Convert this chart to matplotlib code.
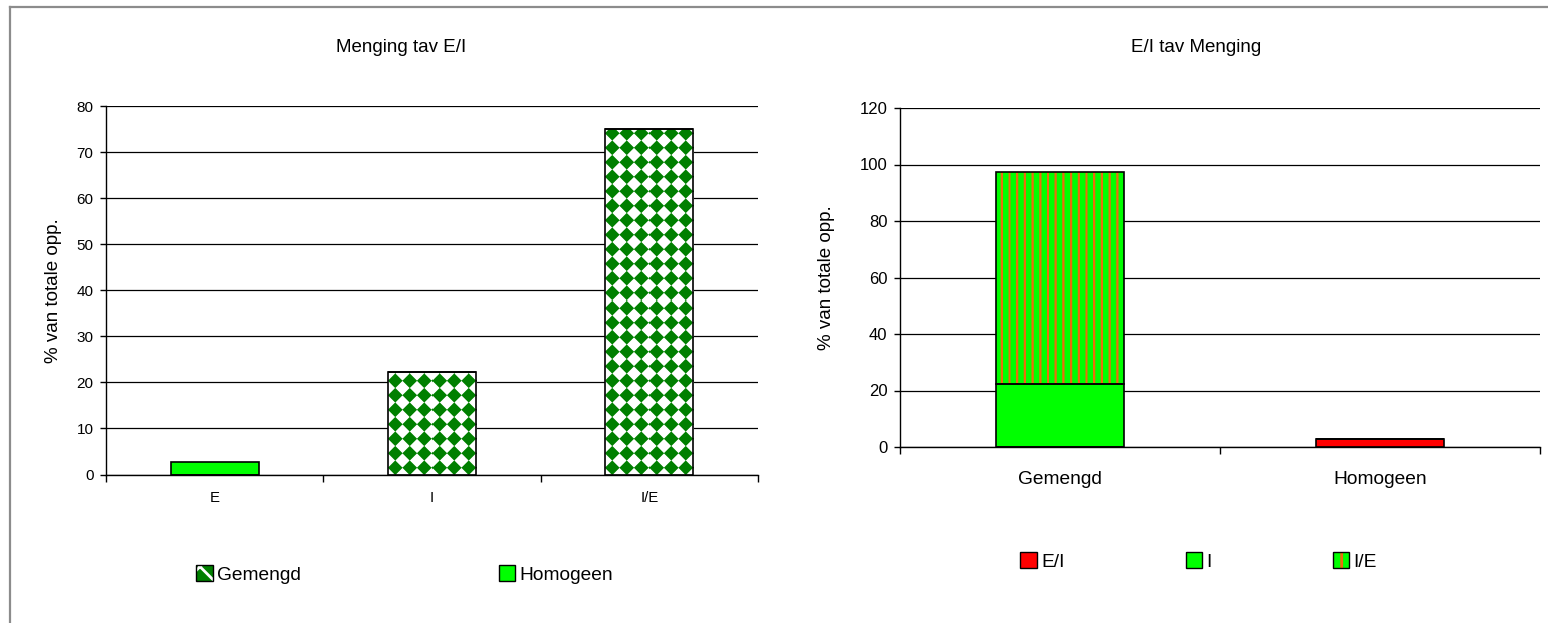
import numpy as np
import matplotlib
matplotlib.use("Agg")
import matplotlib.pyplot as plt
from matplotlib.patches import Rectangle, Patch
from matplotlib.legend_handler import HandlerBase
from matplotlib.ticker import FixedLocator, MultipleLocator

plt.rcParams["font.family"] = ["Liberation Sans", "DejaVu Sans"]
plt.rcParams["hatch.linewidth"] = 2.0

# --- Menging tav E/I : share of total area per E/I class, split by mixing type
ei_classes = ["E", "I", "I/E"]
gemengd = [0.0, 22.3, 74.9]
homogeen = [2.8, 0.0, 0.0]

# --- E/I tav Menging : same areas grouped by mixing type, stacked by E/I class
menging = ["Gemengd", "Homogeen"]
ei_series = ["E/I", "I", "I/E"]
share_ei = [0.0, 2.8]
share_i = [22.3, 0.0]
share_ie = [74.9, 0.0]

GREEN = "#00FF00"
DARK_GREEN = (0.0, 0.5, 0.0)
RED = "#FF0000"
STRIPE = (0.93, 0.42, 0.05)

W, H = 1548, 623
fig = plt.figure(figsize=(W / 100, H / 100), dpi=100)
fig.patch.set_facecolor("white")


def rect_from_px(left, top, right, bottom):
    return [left / W, 1 - bottom / H, (right - left) / W, (bottom - top) / H]


def fill_pattern(ax, bar, kind):
    """Paint a pixel-regular pattern inside a bar, clipped to its outline."""
    if bar.get_height() <= 0:
        return
    x0, y0 = bar.get_x(), bar.get_y()
    x1, y1 = x0 + bar.get_width(), y0 + bar.get_height()
    (px0, py0), (px1, py1) = ax.transData.transform([(x0, y0), (x1, y1)])
    nx = max(int(round(px1 - px0)), 1)
    ny = max(int(round(py1 - py0)), 1)
    ss = 4
    xs = (np.arange(nx * ss) + 0.5) / ss
    ys = (np.arange(ny * ss) + 0.5) / ss
    X, Y = np.meshgrid(xs, ys)
    if kind == "diamond":
        p = 14.5
        u = np.abs((X % p) - p / 2)
        v = np.abs((Y % p) - p / 2)
        m = ((u + v) < p / 2 * 1.02).astype(float)
        fg, bg = np.array(DARK_GREEN), np.array([1.0, 1.0, 1.0])
    else:
        p = 7.7
        m = (((X + 3.0) % p) < 2.2).astype(float)
        fg, bg = np.array(STRIPE), np.array([0.0, 1.0, 0.0])
    m = m.reshape(ny, ss, nx, ss).mean(axis=(1, 3))
    img = bg[None, None, :] * (1 - m[..., None]) + fg[None, None, :] * m[..., None]
    im = ax.imshow(img, extent=(x0, x1, y0, y1), origin="lower", aspect="auto",
                   interpolation="nearest", zorder=2.5)
    im.set_clip_path(bar)


def style_axes(ax, n, ymax, ystep, ytick_size, xtick_size, xpad):
    ax.set_xlim(-0.5, n - 0.5)
    ax.set_ylim(0, ymax)
    ax.set_axisbelow(True)
    for s in ("top", "right"):
        ax.spines[s].set_visible(False)
    for s in ("left", "bottom"):
        ax.spines[s].set_linewidth(1.0)
        ax.spines[s].set_color("black")
    ax.yaxis.set_major_locator(MultipleLocator(ystep))
    ax.grid(axis="y", color="black", linewidth=0.9)
    ax.tick_params(axis="y", direction="out", length=4, width=1, labelsize=ytick_size, pad=5)
    ax.xaxis.set_major_locator(FixedLocator(np.arange(n)))
    ax.xaxis.set_minor_locator(FixedLocator(np.arange(n + 1) - 0.5))
    ax.tick_params(axis="x", which="major", length=0, labelsize=xtick_size, pad=xpad)
    ax.tick_params(axis="x", which="minor", direction="out", length=5, width=1)


class SwatchHandler(HandlerBase):
    def __init__(self, face, hatch=None, hatch_color=None):
        super().__init__()
        self.face, self.hatch, self.hatch_color = face, hatch, hatch_color

    def create_artists(self, legend, orig_handle, xdescent, ydescent, width, height,
                       fontsize, trans):
        s = 12
        x = -xdescent + (width - s) / 2
        y = -ydescent + (height - s) / 2
        arts = [Rectangle((x, y), s, s, facecolor=self.face, edgecolor="none", transform=trans)]
        if self.hatch:
            arts.append(Rectangle((x, y), s, s, facecolor="none", edgecolor=self.hatch_color,
                                  hatch=self.hatch, linewidth=0, transform=trans))
        arts.append(Rectangle((x, y), s, s, fill=False, edgecolor="black", linewidth=1.0,
                              transform=trans))
        return arts


# ---------------- Left chart ----------------
ax1 = fig.add_axes(rect_from_px(106, 106, 758, 474.5))
xl = np.arange(len(ei_classes))
style_axes(ax1, len(ei_classes), 80, 10, 11, 10.8, 12)
ax1.set_xticklabels(ei_classes)

bars_g = ax1.bar(xl, gemengd, 0.405, color="white", edgecolor="none", zorder=2)
bars_h = ax1.bar(xl, homogeen, 0.405, bottom=gemengd, color=GREEN, edgecolor="none", zorder=2)
for b in bars_g:
    fill_pattern(ax1, b, "diamond")
ax1.bar(xl, gemengd, 0.405, fill=False, edgecolor="black", linewidth=1.2, zorder=3)
ax1.bar(xl, homogeen, 0.405, bottom=gemengd, fill=False, edgecolor="black", linewidth=1.2, zorder=3)

ax1.set_ylabel("% van totale opp.", fontsize=13.5)
ax1.yaxis.set_label_coords(-0.0675, 0.5)
fig.text(401 / W, 1 - 48 / H, "Menging tav E/I", ha="center", va="center", fontsize=13.5)

h_gem, h_hom = Patch(), Patch()
fig.legend([h_gem, h_hom], ["Gemengd", "Homogeen"],
           handler_map={h_gem: SwatchHandler(DARK_GREEN, "x", "white"),
                        h_hom: SwatchHandler(GREEN)},
           loc="center left", bbox_to_anchor=(198 / W, 1 - 575 / H), ncol=2,
           frameon=False, fontsize=13.8, borderpad=0, borderaxespad=0,
           handlelength=0.7, handletextpad=0.3, columnspacing=10.4)

# ---------------- Right chart ----------------
ax2 = fig.add_axes(rect_from_px(900, 108, 1540, 447))
xr = np.arange(len(menging))
style_axes(ax2, len(menging), 120, 20, 12, 13.8, 17)
ax2.set_xticklabels(menging)

ax2.bar(xr, share_ei, 0.4, color=RED, edgecolor="none", zorder=2)
bottom_i = np.array(share_ei)
ax2.bar(xr, share_i, 0.4, bottom=bottom_i, color=GREEN, edgecolor="none", zorder=2)
bottom_ie = bottom_i + np.array(share_i)
b_ie = ax2.bar(xr, share_ie, 0.4, bottom=bottom_ie, color=GREEN, edgecolor="none", zorder=2)
for b in b_ie:
    fill_pattern(ax2, b, "stripes")
for vals, bot in ((share_ei, 0), (share_i, bottom_i), (share_ie, bottom_ie)):
    ax2.bar(xr, vals, 0.4, bottom=bot, fill=False, edgecolor="black", linewidth=1.2, zorder=3)

ax2.set_ylabel("% van totale opp.", fontsize=13.5)
ax2.yaxis.set_label_coords(-0.1016, 0.5)
fig.text(1196 / W, 1 - 48 / H, "E/I tav Menging", ha="center", va="center", fontsize=13.5)

h_ei, h_i, h_ie = Patch(), Patch(), Patch()
fig.legend([h_ei, h_i, h_ie], ei_series,
           handler_map={h_ei: SwatchHandler(RED),
                        h_i: SwatchHandler(GREEN),
                        h_ie: SwatchHandler(GREEN, "|", STRIPE)},
           loc="center left", bbox_to_anchor=(1022 / W, 1 - 562 / H), ncol=3,
           frameon=False, fontsize=13.8, borderpad=0, borderaxespad=0,
           handlelength=0.7, handletextpad=0.3, columnspacing=6.4)

# Outer chart-area frame (left and top edges)
fig.add_artist(plt.Line2D([10 / W, 10 / W], [0, 1 - 7 / H], transform=fig.transFigure,
                          color="#8c8c8c", linewidth=1.6))
fig.add_artist(plt.Line2D([10 / W, 1], [1 - 7 / H, 1 - 7 / H], transform=fig.transFigure,
                          color="#8c8c8c", linewidth=1.6))

fig.savefig("out.png", dpi=100, facecolor="white")
